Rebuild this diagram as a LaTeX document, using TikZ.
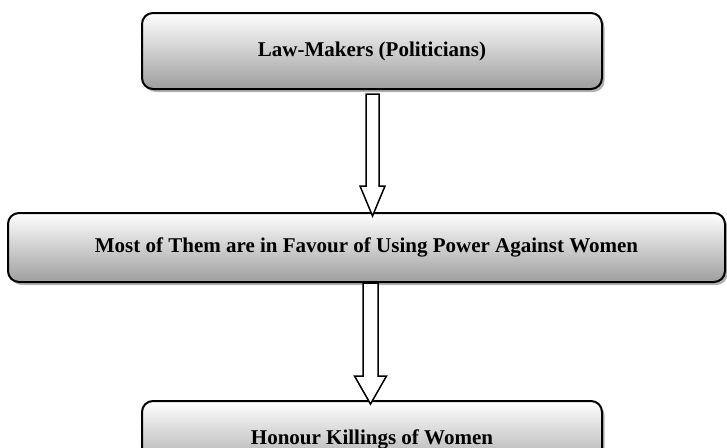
\documentclass[tikz,border=0pt]{standalone}
\usepackage{fontspec}
\setmainfont{Liberation Serif}
\usetikzlibrary{shadows,calc}
\tikzset{
  flowbox/.style={draw=black, line width=2pt, rounded corners=11pt,
    top color=white, bottom color=black!38, inner sep=0pt,
    drop shadow={shadow xshift=2.5pt, shadow yshift=-3pt, fill=black!30, opacity=1},
    font=\fontsize{21}{25}\selectfont\bfseries, align=center},
  blockarrow/.style={draw=black, line width=1.5pt, fill=white, line join=miter}
}
\newcommand{\blockarr}[5]{% start, end, shaft half, head half, head length
  \draw[blockarrow] let \p1=(#1), \p2=(#2) in
    (\x1-#3,\y1) -- (\x1-#3,\y2+#5) -- (\x1-#4,\y2+#5) -- (\x1,\y2)
    -- (\x1+#4,\y2+#5) -- (\x1+#3,\y2+#5) -- (\x1+#3,\y1) -- cycle;}
\begin{document}
\begin{tikzpicture}[x=1pt,y=1pt]
\useasboundingbox (0,0) rectangle (727,-447);
\clip (0,0) rectangle (727,-447);
\node[flowbox, minimum width=460pt, minimum height=76pt] (lm) at (372,-51) {Law-Makers (Politicians)};
\node[flowbox, minimum width=717pt, minimum height=69pt] (most) at (366.5,-247.5) {Most of Them are in Favour of Using Power Against Women};
\node[flowbox, minimum width=460pt, minimum height=76pt] (hk) at (372,-439) {Honour Killings of Women};
\coordinate (a1s) at ($(lm.south)+(0.5,-4)$);
\coordinate (a1e) at ($(most.north)+(6,-4)$);
\blockarr{a1s}{a1e}{6.5}{12.5}{30}
\coordinate (a2s) at ($(most.south)+(4,0)$);
\coordinate (a2e) at ($(hk.north)+(-0.5,-4)$);
\blockarr{a2s}{a2e}{7.5}{16}{28}
\end{tikzpicture}
\end{document}
